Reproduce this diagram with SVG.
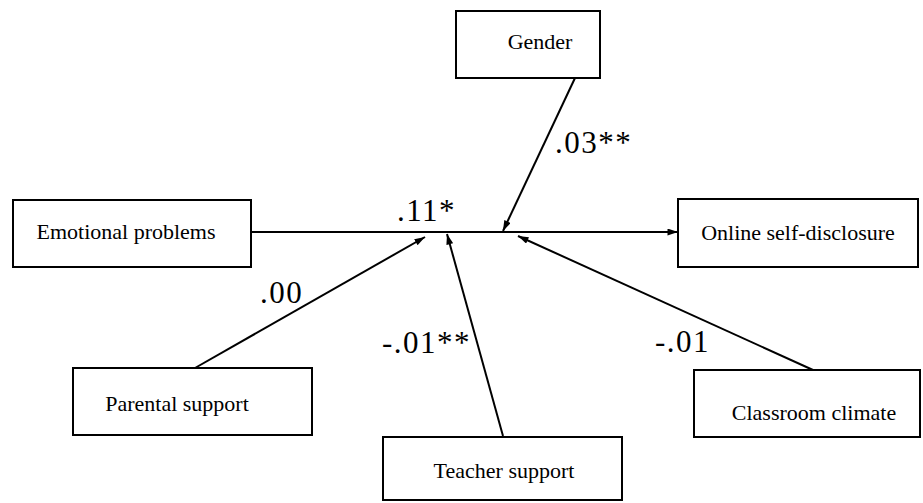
<svg xmlns="http://www.w3.org/2000/svg" width="923" height="503" viewBox="0 0 923 503">
<style>
.box{fill:#fff;stroke:#000;stroke-width:2}
.t{font-family:'Liberation Serif','Times New Roman','DejaVu Serif',serif;font-size:22px;fill:#000;text-anchor:middle}
.c{font-family:'Liberation Serif','Times New Roman','DejaVu Serif',serif;font-size:31px;letter-spacing:1.5px;fill:#000}
.ln{stroke:#000;stroke-width:2;fill:none}
</style>
<defs>
<marker id="ah" viewBox="0 0 12 8" refX="12" refY="4" markerWidth="11" markerHeight="7" markerUnits="userSpaceOnUse" orient="auto">
<path d="M0,0 L12,4 L0,8 Z" fill="#000"/>
</marker>
</defs>
<rect width="923" height="503" fill="#fff"/>
<g id="connectors">
<line class="ln" x1="251" y1="232" x2="678" y2="232" marker-end="url(#ah)"/>
<line class="ln" x1="575" y1="78" x2="503" y2="231" marker-end="url(#ah)"/>
<line class="ln" x1="195" y1="368" x2="425" y2="237" marker-end="url(#ah)"/>
<line class="ln" x1="503" y1="436" x2="447" y2="234" marker-end="url(#ah)"/>
<line class="ln" x1="813" y1="370" x2="518" y2="236" marker-end="url(#ah)"/>
</g>
<g id="labels">
<text class="c" x="397" y="221">.11*</text>
<text class="c" x="555" y="153">.03**</text>
<text class="c" x="260" y="303">.00</text>
<text class="c" x="382" y="353">-.01**</text>
<text class="c" x="655" y="352">-.01</text>
</g>
<g id="gender"><rect class="box" x="456" y="11" width="144" height="67"/><text class="t" x="540" y="49">Gender</text></g>
<g id="emotional"><rect class="box" x="13" y="200" width="238" height="67"/><text class="t" x="126" y="239">Emotional problems</text></g>
<g id="online"><rect class="box" x="678" y="199" width="240" height="68"/><text class="t" x="798" y="240">Online self-disclosure</text></g>
<g id="parental"><rect class="box" x="73" y="368" width="239" height="67"/><text class="t" x="177" y="411">Parental support</text></g>
<g id="teacher"><rect class="box" x="383" y="437" width="239" height="63"/><text class="t" x="504" y="478">Teacher support</text></g>
<g id="classroom"><rect class="box" x="694" y="370" width="226" height="67"/><text class="t" x="814" y="420">Classroom climate</text></g>
</svg>
